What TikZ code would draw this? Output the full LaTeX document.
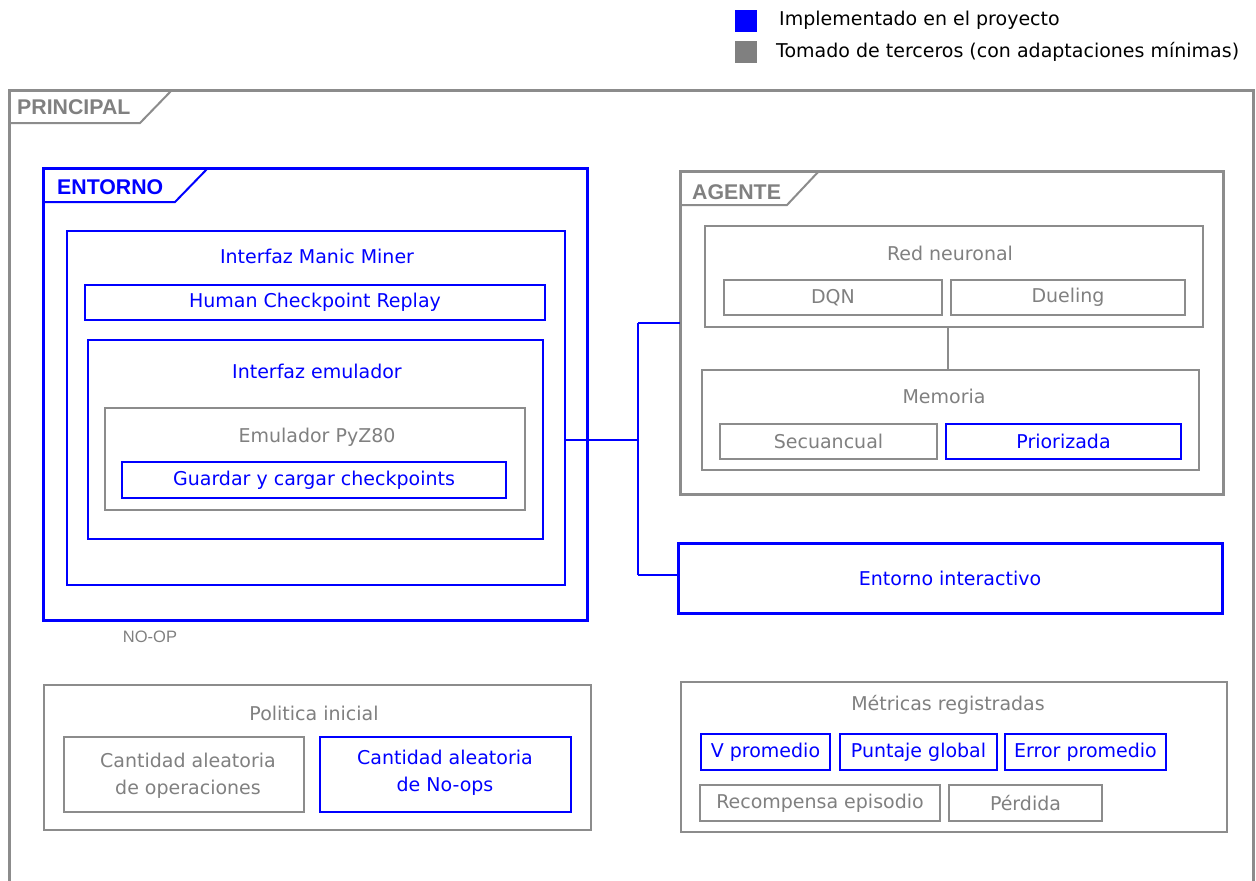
\documentclass[tikz,border=0pt]{standalone}
\usepackage{fontspec}
\setmainfont{DejaVu Sans}
\newfontfamily\tfont{Liberation Sans}
\usetikzlibrary{fit}
\definecolor{gline}{HTML}{8C8C8C}
\definecolor{gtext}{HTML}{808080}
\definecolor{bl}{HTML}{0000FF}
\newcommand\msz{\fontsize{19}{27}\selectfont}
\newcommand\tsz{\tfont\bfseries\fontsize{21.3}{24}\selectfont}
\newcommand\ssz{\tfont\fontsize{16.5}{20}\selectfont}
\begin{document}
\begin{tikzpicture}[x=1pt,y=-1pt,
  box/.style={inner sep=0pt, outer sep=0pt},
  gthin/.style={box, draw=gline, line width=2pt},
  bthin/.style={box, draw=bl, line width=1.6pt},
  gthick/.style={box, draw=gline, line width=3pt},
  bthick/.style={box, draw=bl, line width=3pt},
  gt/.style={text=gtext, font=\msz, inner sep=0pt, align=center},
  bt/.style={text=bl, font=\msz, inner sep=0pt, align=center},
  kt/.style={text=black, font=\msz, inner sep=0pt, anchor=west},
  ttl/.style={font=\tsz, inner sep=0pt, anchor=west},
  conn/.style={draw=bl, line width=1.6pt},
  sq/.style={box, minimum width=22pt, minimum height=22pt},
]
\useasboundingbox (0,0) rectangle (1256,881);
\fill[white] (0,0) rectangle (1256,881);

% legend
\node[sq, fill=bl] (lgb) at (746,20.5) {};
\node[kt] (lgbt) at (779,20) {Implementado en el proyecto};
\node[sq, fill=gtext] (lgg) at (746,51.5) {};
\node[kt] (lggt) at (776,52) {Tomado de terceros (con adaptaciones mínimas)};

% PRINCIPAL frame
\draw[gline, line width=3pt] (9,881) -- (9,90) -- (1253,90) -- (1253,881);
\draw[gline, line width=2pt] (9,123) -- (140,123) -- (172,90);
\node[ttl, text=gtext] (tp) at (17,107) {PRINCIPAL};

% ENTORNO
\node[bthick, fit={(43,168) (587,620)}] (ent) {};
\draw[bl, line width=2pt] (ent.west |- 0,202) -- (175,202) -- (208,168);
\node[ttl, text=bl] (tent) at (57,187) {ENTORNO};

\node[bthin, fit={(67,231) (565,585)}] (mm) {};
\node[bt] (tmm) at (317,256) {Interfaz Manic Miner};
\node[bthin, fit={(85,285) (545,320)}] (hcr) {};
\node[bt] at (hcr.center) {Human Checkpoint Replay};
\node[bthin, fit={(88,340) (543,539)}] (iem) {};
\node[bt] (tiem) at (317,371) {Interfaz emulador};
\node[gthin, fit={(105,408) (525,510)}] (pyz) {};
\node[gt] (tpyz) at (317,437) {Emulador PyZ80};
\node[bthin, fit={(122,462) (506,498)}] (gcc) {};
\node[bt] at (gcc.center) {Guardar y cargar checkpoints};

\node[text=gtext, font=\ssz, inner sep=0pt] (noop) at (150,637) {NO-OP};

% AGENTE
\node[gthick, fit={(680,171) (1223,494)}] (ag) {};
\draw[gline, line width=2pt] (ag.west |- 0,205) -- (787,205) -- (819,171);
\node[ttl, text=gtext] (tag) at (692,192) {AGENTE};

\node[gthin, fit={(705,226) (1203,327)}] (rn) {};
\node[gt] (trn) at (950,253) {Red neuronal};
\node[gthin, fit={(724,280) (942,315)}] (dqn) {};
\node[gt] at (dqn.center) {DQN};
\node[gthin, fit={(951,280) (1185,315)}] (duel) {};
\node[gt] at (duel.center) {Dueling};

\node[gthin, fit={(702,370) (1199,470)}] (mem) {};
\node[gt] (tmem) at (944,396) {Memoria};
\node[gthin, fit={(720,424) (937,459)}] (sec) {};
\node[gt] at (sec.center) {Secuancual};
\node[bthin, fit={(946,424) (1181,459)}] (pri) {};
\node[bt] at (pri.center) {Priorizada};

\coordinate (rm) at (948,0);
\draw[gline, line width=2pt] (rn.south -| rm) -- (mem.north -| rm);

% Entorno interactivo
\node[bthick, fit={(678,543) (1222,613)}] (ei) {};
\node[bt] at (ei.center) {Entorno interactivo};

% connectors
\coordinate (j1) at (638,440);
\coordinate (jt) at (638,323);
\coordinate (jb) at (638,575);
\draw[conn] (mm.east |- j1) -- (j1);
\draw[conn] (jt) -- (jb);
\draw[conn] (jt) -- (ag.west |- jt);
\draw[conn] (jb) -- (ei.west |- jb);

% Politica inicial
\node[gthin, fit={(44,685) (591,830)}] (pol) {};
\node[gt] (tpol) at (314,713) {Politica inicial};
\node[gthin, fit={(64,737) (304,812)}] (cao) {};
\node[gt] at (188,776) {Cantidad aleatoria\\de operaciones};
\node[bthin, fit={(320,737) (571,812)}] (can) {};
\node[bt] at (445,773) {Cantidad aleatoria\\de No-ops};

% Metricas
\node[gthin, fit={(681,682) (1227,832)}] (met) {};
\node[gt] (tmet) at (948,705) {Métricas registradas};
\node[bthin, fit={(701,734) (830,770)}] (vp) {};
\node[bt] at (vp.center) {V promedio};
\node[bthin, fit={(840,734) (997,770)}] (pg) {};
\node[bt] at (pg.center) {Puntaje global};
\node[bthin, fit={(1005,734) (1166,770)}] (ep) {};
\node[bt] at (ep.center) {Error promedio};
\node[gthin, fit={(700,785) (940,821)}] (re) {};
\node[gt] at (re.center) {Recompensa episodio};
\node[gthin, fit={(949,785) (1102,821)}] (pe) {};
\node[gt] at (pe.center) {Pérdida};
\end{tikzpicture}
\end{document}
